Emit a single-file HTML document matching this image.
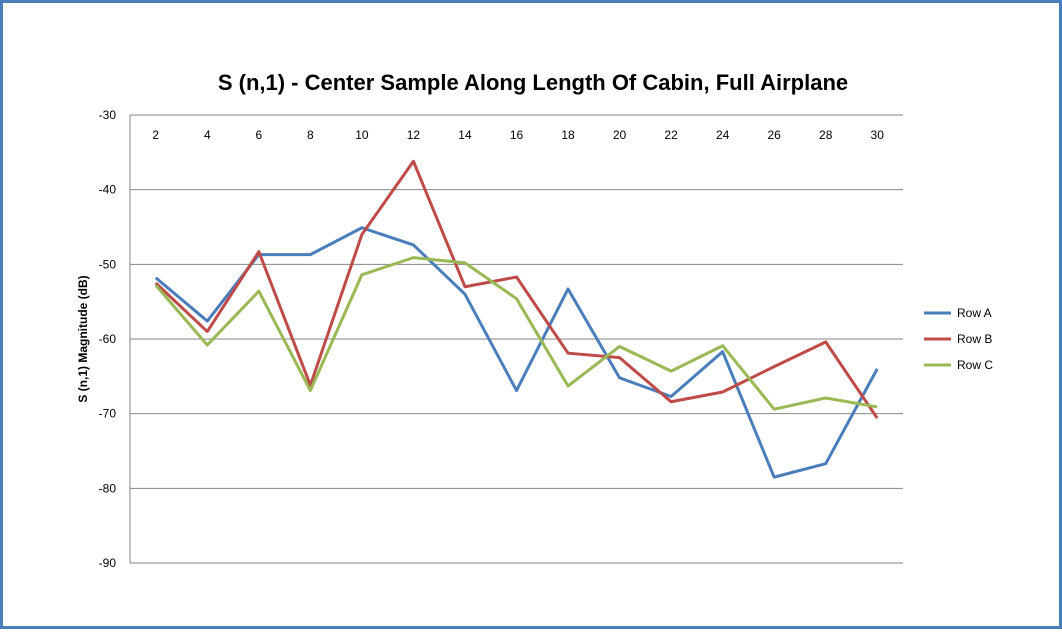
<!DOCTYPE html>
<html><head><meta charset="utf-8"><style>
html,body{margin:0;padding:0;background:#fff;}
#wrap{position:relative;width:1062px;height:629px;box-sizing:border-box;border:3px solid #4a7ebb;background:#fff;font-family:"Liberation Sans",sans-serif;}
svg{position:absolute;left:0;top:0;}
</style></head><body>
<div id="wrap">
<svg id="chart" width="1062" height="629"></svg>
</div>
<script>
const categories=[2,4,6,8,10,12,14,16,18,20,22,24,26,28,30];
const yTicks=[-30,-40,-50,-60,-70,-80,-90];
const rowA=[-51.8,-57.6,-48.7,-48.7,-45.1,-47.4,-54,-66.9,-53.3,-65.2,-67.7,-61.7,-78.5,-76.7,-64];
const rowB=[-52.5,-59,-48.3,-66.2,-46,-36.2,-53,-51.7,-61.9,-62.5,-68.4,-67.1,-63.7,-60.4,-70.6];
const rowC=[-52.8,-60.8,-53.6,-66.9,-51.4,-49.1,-49.8,-54.6,-66.3,-61,-64.3,-60.9,-69.4,-67.9,-69.1];
const seriesNames=["Row A","Row B","Row C"];
const colors=["#4a7ebb","#be4b48","#98b954"];
const NS="http://www.w3.org/2000/svg";
const svg=document.getElementById('chart');
const L=127,R=900,T=112,B=560,yMax=-30,yMin=-90;
function y(v){return T+(yMax-v)/(yMax-yMin)*(B-T);}
const step=(R-L)/categories.length;
function x(i){return L+step*(i+0.5);}
function mk(tag,attrs,txt){const e=document.createElementNS(NS,tag);for(const k in attrs)e.setAttribute(k,attrs[k]);if(txt!==undefined)e.textContent=txt;svg.appendChild(e);return e;}
let t=mk('text',{x:530,y:87,'text-anchor':'middle','font-size':'22','font-weight':'bold',fill:'#000'},'S (n,1) - Center Sample Along Length Of Cabin, Full Airplane');

yTicks.forEach(v=>{
 const g=mk('line',{x1:L,x2:R,y1:y(v),y2:y(v),stroke:'#868686','stroke-width':1});
 
 const tl=mk('text',{x:L-14,y:y(v)+4,'text-anchor':'end','font-size':'12',fill:'#000'},v);
 
});
const ax=mk('line',{x1:L,x2:L,y1:T,y2:B,stroke:'#868686','stroke-width':1});

categories.forEach((c,i)=>{
 const tl=mk('text',{x:x(i),y:T+24,'text-anchor':'middle','font-size':'12',fill:'#000'},c);
 
});
const yt=mk('text',{x:0,y:0,'text-anchor':'middle','font-size':'12','font-weight':'bold',fill:'#000',transform:'translate(84,336) rotate(-90)'},'S (n,1) Magnitude (dB)');

[rowA,rowB,rowC].forEach((d,s)=>{
 const p=mk('polyline',{points:d.map((v,i)=>x(i)+','+y(v)).join(' '),fill:'none',stroke:colors[s],'stroke-width':3,'stroke-linejoin':'round'});
 
 
 const ly=310+s*26;
 const ll=mk('line',{x1:921,x2:948,y1:ly,y2:ly,stroke:colors[s],'stroke-width':3});
 
 const lt=mk('text',{x:954,y:ly+4,'font-size':'12',fill:'#000'},seriesNames[s]);
 
});
</script>
</body></html>
